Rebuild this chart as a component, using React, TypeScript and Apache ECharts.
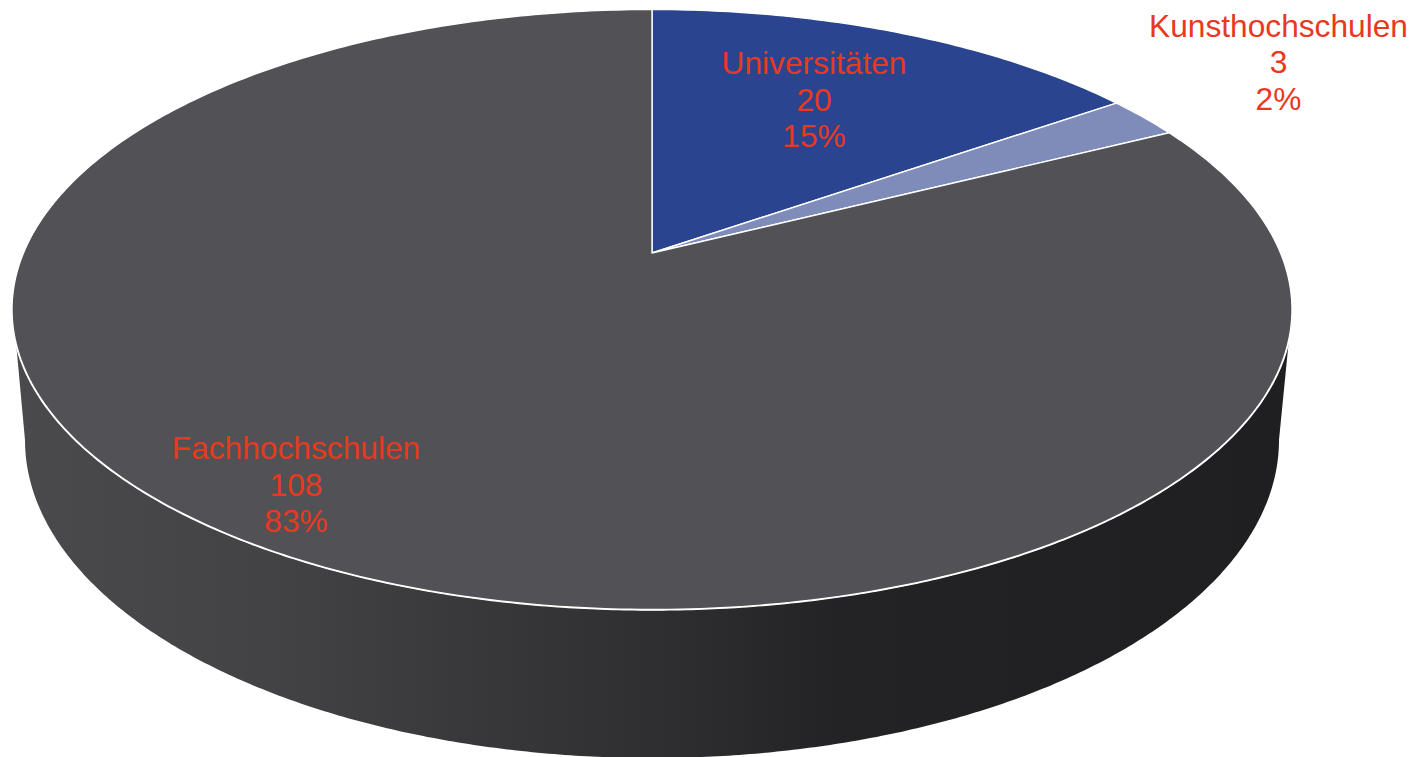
import React, { useEffect, useRef } from "react";
import * as echarts from "echarts";

const names = ["Universitäten", "Kunsthochschulen", "Fachhochschulen"];
const counts = [20, 3, 108];
const percents = ["15%", "2%", "83%"];
const sliceColors = ["#2a4490", "#7f8cba", "#525155"];
const labelCenters = [[814, 63], [1278.5, 25.5], [296, 448]];
const wallStops = [
  [0, "#4a4a4c"],
  [0.2, "#434345"],
  [0.35, "#39393c"],
  [0.5, "#2f2f32"],
  [0.65, "#232325"],
  [1, "#1f1f21"],
];

const TOP = { cx: 652, cy: 309.5, rx: 640, ry: 300 };
const BOTTOM = { cx: 652, cy: 440, rx: 627, ry: 318 };
const APEX_SHIFT = (309.5 - 253) / 300;
const TOTAL = counts.reduce((a, b) => a + b, 0);
const RAD = Math.PI / 180;

// Perspective projection of a clockwise pie angle onto the tilted top face.
function rimPoint(angle: number): number[] {
  const u = Math.sin(angle);
  const v = -Math.cos(angle);
  const a = APEX_SHIFT;
  const d = 1 - a * v;
  return [
    TOP.cx + TOP.rx * ((u * Math.sqrt(1 - a * a)) / d),
    TOP.cy + TOP.ry * ((v - a) / d),
  ];
}
const apex = [TOP.cx, TOP.cy - APEX_SHIFT * TOP.ry];

function sliceAngles(index: number): number[] {
  let before = 0;
  for (let i = 0; i < index; i++) before += counts[i];
  return [(before / TOTAL) * 2 * Math.PI, ((before + counts[index]) / TOTAL) * 2 * Math.PI];
}

function frontRim(): number[][] {
  const rim: number[][] = [];
  for (let t = 5.5; t <= 173.5; t += 0.5) {
    rim.push([TOP.cx + TOP.rx * Math.cos(t * RAD), TOP.cy + TOP.ry * Math.sin(t * RAD)]);
  }
  return rim;
}

function coversFront(index: number): boolean {
  const [start, end] = sliceAngles(index);
  return start <= Math.PI && end >= Math.PI;
}

function renderTop(params: any, api: any) {
  const i = params.dataIndex;
  const [start, end] = sliceAngles(i);
  const pts: number[][] = [apex];
  const steps = Math.max(12, Math.round(((end - start) / (2 * Math.PI)) * 480));
  for (let k = 0; k <= steps; k++) pts.push(rimPoint(start + ((end - start) * k) / steps));
  const [lx, ly] = labelCenters[i];
  const lines = [names[i], String(api.value(0)), percents[i]];
  return {
    type: "group",
    children: [
      {
        type: "polygon",
        shape: { points: pts },
        style: { fill: sliceColors[i], stroke: "#ffffff", lineWidth: 1.4, lineJoin: "round" },
      },
      ...lines.map((text, n) => ({
        type: "text",
        z2: 10,
        style: {
          text,
          x: lx,
          y: ly + n * 36.6,
          align: "center",
          verticalAlign: "middle",
          fill: "#e8391f",
          font: '31.7px "Liberation Sans", Arial, sans-serif',
        },
      })),
    ],
  };
}

function renderWall(params: any) {
  if (!coversFront(params.dataIndex)) return null;
  const floor: number[][] = [];
  for (let t = 180; t >= 0; t -= 0.5) {
    floor.push([BOTTOM.cx + BOTTOM.rx * Math.cos(t * RAD), BOTTOM.cy + BOTTOM.ry * Math.sin(t * RAD)]);
  }
  return {
    type: "polygon",
    shape: { points: [...frontRim(), ...floor] },
    style: {
      fill: new echarts.graphic.LinearGradient(15, 0, 1290, 0, wallStops.map(([offset, color]) => ({ offset, color })) as any, true),
    },
  };
}

function renderRimLine(params: any) {
  if (!coversFront(params.dataIndex)) return null;
  return {
    type: "polyline",
    shape: { points: frontRim() },
    style: { fill: "none", stroke: "#ffffff", lineWidth: 2.4 },
  };
}

export default function App() {
  const ref = useRef<HTMLDivElement>(null);
  useEffect(() => {
    document.body.style.margin = "0";
    document.body.style.overflow = "hidden";
    const chart = echarts.init(ref.current!, undefined, { renderer: "svg" });
    const data = names.map((name, i) => ({ name, value: [counts[i]] }));
    chart.setOption({
      animation: false,
      backgroundColor: "#ffffff",
      series: [
        { type: "custom", coordinateSystem: "none", silent: true, z: 1, data, renderItem: renderWall },
        { type: "custom", coordinateSystem: "none", silent: true, z: 2, data, renderItem: renderRimLine },
        { type: "custom", coordinateSystem: "none", silent: true, z: 3, data, renderItem: renderTop },
      ],
    });
    return () => chart.dispose();
  }, []);
  return <div ref={ref} style={{ width: 1421, height: 757 }} />;
}
